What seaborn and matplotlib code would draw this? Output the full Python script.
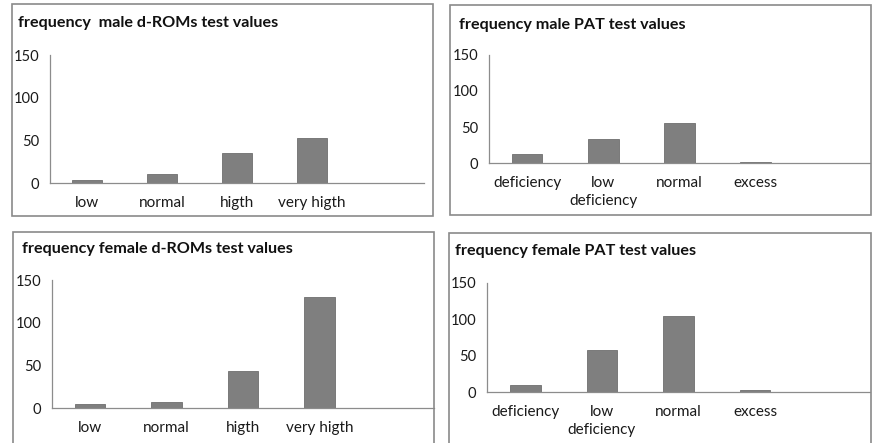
import matplotlib
matplotlib.use("Agg")
import matplotlib.pyplot as plt
import seaborn as sns
import pandas as pd
from matplotlib.patches import Rectangle

# data
roms_cats = ["low", "normal", "higth", "very higth"]
pat_cats = ["deficiency", "low\ndeficiency", "normal", "excess"]
male_roms = [4, 10, 35, 53]
male_pat = [12, 34, 56, 2]
female_roms = [5, 7, 43, 130]
female_pat = [10, 58, 104, 3]
titles = ["frequency  male d-ROMs test values", "frequency male PAT test values",
          "frequency female d-ROMs test values", "frequency female PAT test values"]

sns.set_style("white")
plt.rcParams["font.family"] = ["Lato", "DejaVu Sans"]

W, H = 872, 443
fig = plt.figure(figsize=(W / 100, H / 100), dpi=100)

# pixel layout: box (x0, y0, x1, y1), axes (left, right, top, bottom), title anchor
layout = [
    dict(box=(12, 4, 433, 216), ax=(50, 424, 55, 183), title=(18, 23)),
    dict(box=(450, 5, 871, 215), ax=(489, 870, 55, 163), title=(459, 25)),
    dict(box=(13, 232, 434, 446), ax=(52, 434, 280, 408), title=(22, 249)),
    dict(box=(449, 233, 871, 446), ax=(487, 870, 283, 392), title=(455, 251)),
]
panels = [(roms_cats, male_roms), (pat_cats, male_pat),
          (roms_cats, female_roms), (pat_cats, female_pat)]

grey = "#8c8c8c"
for (cats, vals), title, lay in zip(panels, titles, layout):
    x0, y0, x1, y1 = lay["box"]
    fig.patches.append(Rectangle((x0 / W, 1 - y1 / H), (x1 - x0) / W, (y1 - y0) / H,
                                 transform=fig.transFigure, fill=False,
                                 edgecolor="#8a8a8a", linewidth=1.2))
    tx, ty = lay["title"]
    fig.text(tx / W, 1 - ty / H, title, fontsize=11.6, fontweight="bold",
             ha="left", va="center", color="#111111")

    l, r, t, b = lay["ax"]
    ax = fig.add_axes([l / W, 1 - b / H, (r - l) / W, (b - t) / H])
    ax.patch.set_alpha(0)
    df = pd.DataFrame({"cat": cats, "val": vals})
    sns.barplot(data=df, x="cat", y="val", order=cats, color="#7f7f7f",
                saturation=1, width=0.4, edgecolor="#6e6e6e", linewidth=0.6, ax=ax)
    ax.set_xlim(-0.5, 4.5)
    ax.set_ylim(0, 150)
    ax.set_yticks([0, 50, 100, 150])
    ax.set_xlabel("")
    ax.set_ylabel("")
    ax.set_xticks(range(len(cats)))
    ax.set_xticklabels(cats)
    ax.set_xticks([i - 0.5 for i in range(6)], minor=True)
    for lbl in ax.get_xticklabels():
        lbl.set_linespacing(1.35)
    ax.tick_params(axis="x", which="major", length=0, pad=9.5, labelsize=11, labelcolor="#1a1a1a")
    ax.tick_params(axis="x", which="minor", length=5, width=0.8, color=grey, direction="out")
    ax.tick_params(axis="y", length=4, width=0.8, color=grey, direction="out", pad=3.5,
                   labelsize=10.6, labelcolor="#1a1a1a")
    for side in ["top", "right"]:
        ax.spines[side].set_visible(False)
    for side in ["left", "bottom"]:
        ax.spines[side].set_color(grey)
        ax.spines[side].set_linewidth(0.9)

fig.savefig("out.png", dpi=100)
